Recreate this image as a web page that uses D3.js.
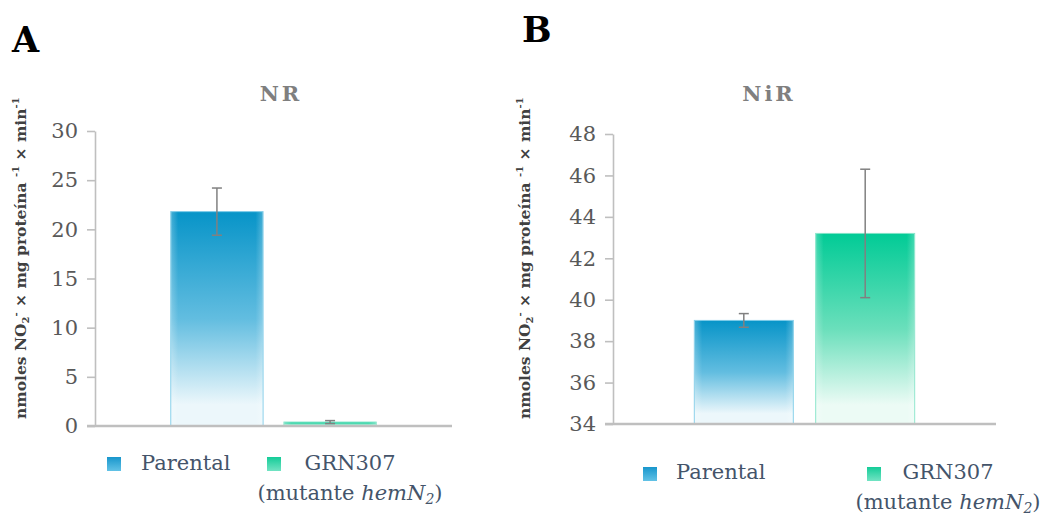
<!DOCTYPE html>
<html>
<head>
<meta charset="utf-8">
<script src="https://cdn.jsdelivr.net/npm/d3@7"></script>
<style>
  body { margin: 0; background: #fff; }
  svg text { font-family: "DejaVu Serif", serif; }
</style>
</head>
<body>
<svg id="chart" width="1047" height="515"></svg>
<script>
// data
var series = ["Parental", "GRN307"];
var nrValues = [21.8, 0.4];
var nrErrors = [2.4, 0.15];
var nrTicks = [0, 5, 10, 15, 20, 25, 30];
var nirValues = [39.0, 43.2];
var nirErrors = [0.33, 3.1];
var nirTicks = [34, 36, 38, 40, 42, 44, 46, 48];

var colors = {
    Parental: { top: "#0794c8", mid: "#62bde0", bottom: "#ecf7fb", edge: "#7ccbe8", legTop: "#1896cc", legBottom: "#62c2e6" },
    GRN307:   { top: "#01cb96", mid: "#6adfbb", bottom: "#ecfbf5", edge: "#7fe3c6", legTop: "#14cc98", legBottom: "#72e3c3" }
};

var svg = d3.select("#chart");
var defs = svg.append("defs");

series.forEach(function (s) {
    var c = colors[s];
    var g = defs.append("linearGradient").attr("id", "bar-" + s)
        .attr("x1", 0).attr("y1", 0).attr("x2", 0).attr("y2", 1);
    g.append("stop").attr("offset", "0%").attr("stop-color", c.top);
    g.append("stop").attr("offset", "50%").attr("stop-color", c.mid);
    g.append("stop").attr("offset", "90%").attr("stop-color", c.bottom);
    g.append("stop").attr("offset", "100%").attr("stop-color", c.bottom);
    var lg = defs.append("linearGradient").attr("id", "leg-" + s)
        .attr("x1", 0).attr("y1", 0).attr("x2", 0).attr("y2", 1);
    lg.append("stop").attr("offset", "0%").attr("stop-color", c.legTop);
    lg.append("stop").attr("offset", "100%").attr("stop-color", c.legBottom);
});
// soft lighter band on the bar sides
var side = defs.append("linearGradient").attr("id", "side")
    .attr("x1", 0).attr("y1", 0).attr("x2", 1).attr("y2", 0);
side.append("stop").attr("offset", "0%").attr("stop-color", "#fff").attr("stop-opacity", 0.25);
side.append("stop").attr("offset", "8%").attr("stop-color", "#fff").attr("stop-opacity", 0);
side.append("stop").attr("offset", "92%").attr("stop-color", "#fff").attr("stop-opacity", 0);
side.append("stop").attr("offset", "100%").attr("stop-color", "#fff").attr("stop-opacity", 0.25);

function drawPanel(p) {
    var g = svg.append("g");

    var y = d3.scaleLinear().domain(p.domain).range([p.bottom, p.top]);
    var x = d3.scaleBand().domain(series).range([p.left, p.right])
        .paddingInner(0.185).paddingOuter(0.67);

    // panel letter and title
    g.append("text").attr("x", p.letterX).attr("y", p.letterY)
        .attr("font-size", 35).attr("font-weight", "bold").attr("fill", "#000")
        .text(p.letter);
    g.append("text").attr("x", p.titleX).attr("y", 101)
        .attr("text-anchor", "middle").attr("font-size", 21).attr("font-weight", "bold")
        .attr("letter-spacing", 3).attr("fill", "#7f7f7f")
        .text(p.title);

    // y axis
    var yAxis = g.append("g").attr("transform", "translate(" + p.left + ",0)")
        .call(d3.axisLeft(y).tickValues(p.ticks).tickSize(8).tickSizeOuter(0).tickPadding(9));
    yAxis.select(".domain").attr("stroke", "#bfbfbf").attr("stroke-width", 1.6);
    yAxis.selectAll(".tick line").attr("stroke", "#bfbfbf").attr("stroke-width", 1.6);
    yAxis.selectAll(".tick text").attr("font-size", 21).attr("fill", "#595959")
        .attr("font-family", "DejaVu Serif, serif");

    // y axis title
    var yt = g.append("text")
        .attr("transform", "translate(" + p.ylabelX + "," + p.ylabelY + ") rotate(-90)")
        .attr("font-size", 15.5).attr("font-weight", "bold").attr("fill", "#404040");
    yt.append("tspan").text("nmoles NO");
    yt.append("tspan").attr("font-size", 10).attr("baseline-shift", "-3").text("2");
    yt.append("tspan").attr("font-size", 10).attr("baseline-shift", "7").text("-");
    yt.append("tspan").text(" × mg proteína ");
    yt.append("tspan").attr("font-size", 10).attr("baseline-shift", "7").text("-1");
    yt.append("tspan").text(" × min");
    yt.append("tspan").attr("font-size", 10).attr("baseline-shift", "7").text("-1");

    // bars
    var bars = g.append("g").selectAll("g").data(series).enter().append("g");
    bars.append("rect")
        .attr("x", function (d) { return x(d); })
        .attr("width", x.bandwidth())
        .attr("y", function (d, i) { return y(p.values[i]); })
        .attr("height", function (d, i) { return p.bottom - y(p.values[i]); })
        .attr("fill", function (d) { return "url(#bar-" + d + ")"; })
        .attr("stroke", function (d) { return colors[d].edge; })
        .attr("stroke-width", 1);
    bars.append("rect")
        .attr("x", function (d) { return x(d); })
        .attr("width", x.bandwidth())
        .attr("y", function (d, i) { return y(p.values[i]); })
        .attr("height", function (d, i) { return p.bottom - y(p.values[i]); })
        .attr("fill", "url(#side)");

    // x axis (Excel style: starts at the left end of the ticks)
    g.append("line")
        .attr("x1", p.left - 8).attr("x2", p.right)
        .attr("y1", p.bottom).attr("y2", p.bottom)
        .attr("stroke", "#bfbfbf").attr("stroke-width", 2.5);

    // error bars
    var err = g.append("g").selectAll("g").data(series).enter().append("g")
        .attr("stroke", "#808080").attr("stroke-width", 1.5);
    function cx(d) { return x(d) + x.bandwidth() / 2; }
    err.append("line")
        .attr("x1", cx).attr("x2", cx)
        .attr("y1", function (d, i) { return y(p.values[i] + p.errors[i]); })
        .attr("y2", function (d, i) { return y(p.values[i] - p.errors[i]); });
    [1, -1].forEach(function (sgn) {
        err.append("line")
            .attr("x1", function (d) { return cx(d) - 5; })
            .attr("x2", function (d) { return cx(d) + 5; })
            .attr("y1", function (d, i) { return y(p.values[i] + sgn * p.errors[i]); })
            .attr("y2", function (d, i) { return y(p.values[i] + sgn * p.errors[i]); });
    });

    // legend
    var leg = g.append("g");
    p.legend.forEach(function (l, i) {
        var s = series[i];
        leg.append("rect").attr("x", l.sx).attr("y", l.sy).attr("width", 14).attr("height", 14)
            .attr("fill", "url(#leg-" + s + ")");
        if (s === "Parental") {
            leg.append("text").attr("x", l.tx).attr("y", l.ty)
                .attr("font-size", 21).attr("fill", "#44546a").text("Parental");
        } else {
            leg.append("text").attr("x", l.tx).attr("y", l.ty)
                .attr("text-anchor", "middle")
                .attr("font-size", 21).attr("fill", "#44546a").text("GRN307");
            var t2 = leg.append("text").attr("x", l.tx).attr("y", l.ty + 30)
                .attr("text-anchor", "middle")
                .attr("font-size", 21).attr("fill", "#44546a");
            t2.append("tspan").text("(mutante ");
            t2.append("tspan").attr("font-style", "italic").text("hemN");
            t2.append("tspan").attr("font-style", "italic").attr("font-size", 14)
                .attr("baseline-shift", "-4").text("2");
            t2.append("tspan").text(")");
        }
    });
}

drawPanel({
    letter: "A", letterX: 12, letterY: 52,
    title: "NR", titleX: 281,
    domain: [0, 30], ticks: nrTicks,
    values: nrValues, errors: nrErrors,
    left: 95, right: 452, top: 131, bottom: 426,
    ylabelX: 26, ylabelY: 419,
    legend: [
        { sx: 107, sy: 457, tx: 141, ty: 470 },
        { sx: 267, sy: 457, tx: 350, ty: 470 }
    ]
});

drawPanel({
    letter: "B", letterX: 522, letterY: 42,
    title: "NiR", titleX: 769,
    domain: [34, 48], ticks: nirTicks,
    values: nirValues, errors: nirErrors,
    left: 613, right: 996, top: 134, bottom: 424,
    ylabelX: 530, ylabelY: 419,
    legend: [
        { sx: 643, sy: 467, tx: 676, ty: 479 },
        { sx: 867, sy: 467, tx: 948, ty: 479 }
    ]
});
</script>
</body>
</html>
